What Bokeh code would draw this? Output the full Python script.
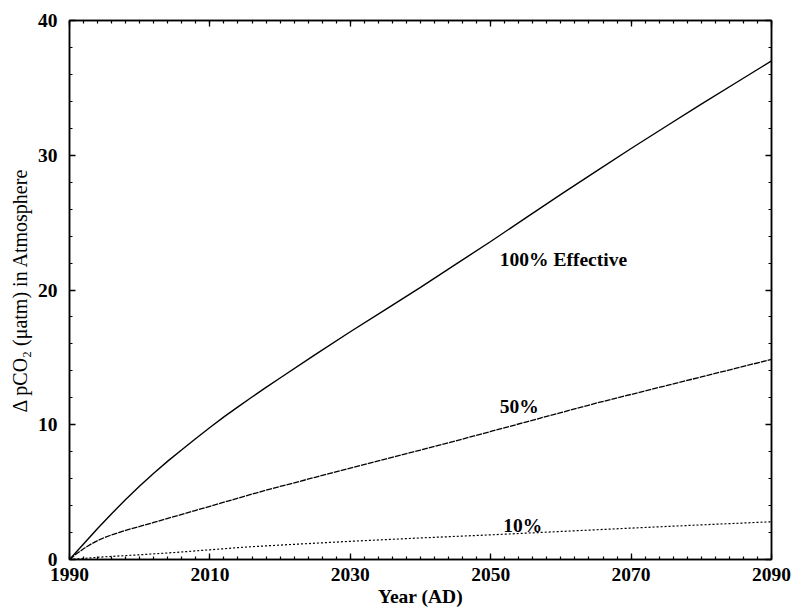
from bokeh.plotting import figure
from bokeh.models import LinearAxis, FixedTicker, Range1d, CustomJSTickFormatter
from bokeh.core.properties import value
from bokeh.embed import file_html
from bokeh.resources import INLINE

years100 = [1990, 1992, 1994, 1996, 1998, 2000, 2002, 2004, 2006, 2008, 2010, 2012, 2014,
            2016, 2018, 2020, 2025, 2030, 2035, 2040, 2045, 2050, 2055, 2060, 2065, 2070,
            2075, 2080, 2085, 2090]
eff100 = [0.0, 1.15, 2.3, 3.4, 4.45, 5.45, 6.4, 7.3, 8.15, 8.98, 9.8, 10.58, 11.33,
          12.06, 12.77, 13.47, 15.2, 16.9, 18.55, 20.2, 21.9, 23.6, 25.35, 27.1, 28.8, 30.5,
          32.15, 33.8, 35.4, 37.0]

years50 = [1990, 1991, 1992, 1993, 1994, 1995, 1996, 1997, 1998, 1999, 2000, 2002, 2004,
           2006, 2008, 2010, 2014, 2018, 2020, 2025, 2030, 2035, 2040, 2045, 2050, 2055,
           2060, 2065, 2070, 2075, 2080, 2085, 2090]
eff50 = [0.0, 0.42, 0.8, 1.12, 1.4, 1.63, 1.83, 2.0, 2.16, 2.31, 2.45, 2.75, 3.05,
         3.35, 3.65, 3.95, 4.55, 5.15, 5.42, 6.1, 6.78, 7.45, 8.12, 8.8, 9.5, 10.2,
         10.9, 11.6, 12.25, 12.9, 13.55, 14.2, 14.85]

years10 = [1990, 1995, 2000, 2005, 2010, 2015, 2020, 2030, 2040, 2050, 2060, 2070, 2080, 2090]
eff10 = [0.0, 0.2, 0.35, 0.52, 0.72, 0.92, 1.07, 1.35, 1.6, 1.83, 2.08, 2.33, 2.57, 2.8]

labels = ["100% Effective", "50%", "10%"]
label_x = [2051.3, 2051.3, 2051.8]
label_y = [22.3, 11.35, 2.5]

x_major = [1990, 2010, 2030, 2050, 2070, 2090]
x_minor = list(range(1990, 2091, 2))
y_major = [0, 10, 20, 30, 40]
y_minor = list(range(0, 41, 2))

SERIF = "Liberation Serif"

p = figure(width=795, height=611, output_backend="svg", toolbar_location=None,
           x_range=Range1d(1990, 2090), y_range=Range1d(0, 40),
           min_border_left=69, min_border_right=24, min_border_top=20, min_border_bottom=52)
p.xgrid.visible = False
p.ygrid.visible = False
p.outline_line_color = "black"
p.outline_line_width = 1.5
p.background_fill_color = "white"
p.border_fill_color = "white"

p.line(years100, eff100, line_color="black", line_width=1.4)
p.line(years50, eff50, line_color="black", line_width=1.3, line_dash="6 1")
p.line(years10, eff10, line_color="black", line_width=1.2, line_dash="2 2")

p.text(x=label_x, y=label_y, text=labels, text_font=value(SERIF), text_font_style="bold",
       text_font_size="19.5px", text_baseline="middle", text_align="left", text_color="black")

def style(ax, major, minor, labels_on=True):
    ax.ticker = FixedTicker(ticks=major, minor_ticks=minor)
    ax.major_tick_in = 6
    ax.major_tick_out = 0
    ax.minor_tick_in = 3
    ax.minor_tick_out = 0
    ax.axis_line_width = 1.5
    ax.axis_line_color = "black"
    ax.major_tick_line_width = 1.3
    ax.minor_tick_line_width = 1.2
    ax.major_label_text_font = SERIF
    ax.major_label_text_font_style = "bold"
    ax.major_label_text_font_size = "19.5px"
    ax.major_label_text_color = "black"
    if not labels_on:
        ax.formatter = CustomJSTickFormatter(code="return ''")
        ax.major_label_standoff = 0

xa = p.xaxis[0]
style(xa, x_major, x_minor)
xa.major_label_standoff = 8
xa.axis_label = "Year (AD)"
xa.axis_label_text_font = SERIF
xa.axis_label_text_font_style = "bold"
xa.axis_label_text_font_size = "19.5px"
xa.axis_label_text_color = "black"
xa.axis_label_standoff = 2

ya = p.yaxis[0]
style(ya, y_major, y_minor)
ya.major_label_standoff = 12
ya.axis_label = "\u0394 pCO\u2082 (\u03bcatm) in Atmosphere"
ya.axis_label_text_font = SERIF
ya.axis_label_text_font_style = "normal"
ya.axis_label_text_font_size = "20px"
ya.axis_label_text_color = "black"
ya.axis_label_standoff = 4

top = LinearAxis()
style(top, x_major, x_minor, labels_on=False)
p.add_layout(top, "above")
right = LinearAxis()
style(right, y_major, y_minor, labels_on=False)
p.add_layout(right, "right")

open("out.html", "w").write(file_html(p, INLINE))
